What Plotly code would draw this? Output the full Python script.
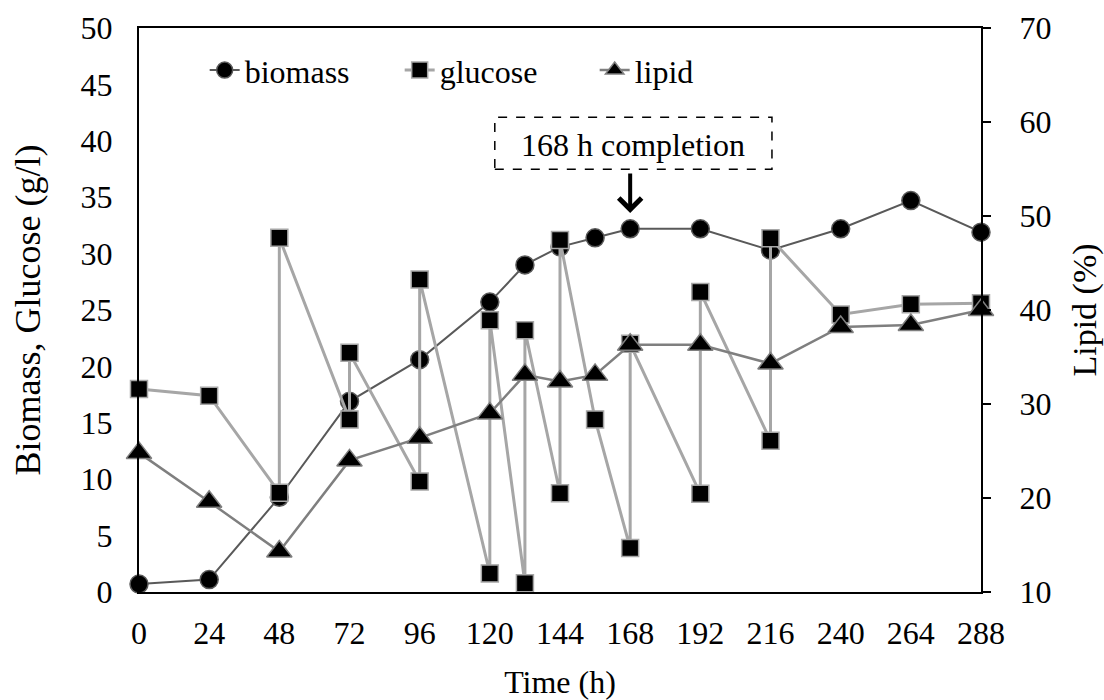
import plotly.graph_objects as go

# ---- data ----
time_h = [0, 24, 48, 72, 96, 120, 132, 144, 156, 168, 192, 216, 240, 264, 288]
biomass = [0.7, 1.1, 8.4, 16.9, 20.6, 25.7, 29.0, 30.6, 31.4, 32.2, 32.2, 30.3, 32.2, 34.7, 31.9]
lipid = [24.8, 19.6, 14.3, 24.0, 26.4, 29.0, 33.1, 32.4, 33.1, 36.3, 36.3, 34.3, 38.2, 38.4, 40.0]

glucose_time = [0, 24, 48, 48, 72, 72, 96, 96, 120, 120, 132, 132, 144, 144,
                156, 168, 168, 192, 192, 216, 216, 240, 264, 288]
glucose = [18.0, 17.4, 8.8, 31.4, 15.3, 21.2, 9.8, 27.7, 1.65, 24.1, 0.77, 23.2, 8.75, 31.2,
           15.3, 3.9, 22.0, 8.7, 26.6, 13.4, 31.35, 24.6, 25.5, 25.6]

x_ticks = list(range(0, 289, 24))
FONT = "Liberation Serif, Times New Roman, serif"
FS = 32

fig = go.Figure()
fig.add_trace(go.Scatter(
    x=time_h, y=biomass, name="biomass", mode="lines+markers", cliponaxis=False,
    line=dict(color="#595959", width=2),
    marker=dict(symbol="circle", size=18, color="black", line=dict(color="#595959", width=1.5)),
))
fig.add_trace(go.Scatter(
    x=glucose_time, y=glucose, name="glucose", mode="lines+markers", cliponaxis=False,
    line=dict(color="#A6A6A6", width=3),
    marker=dict(symbol="square", size=17, color="black", line=dict(color="#A6A6A6", width=1.5)),
))
fig.add_trace(go.Scatter(
    x=time_h, y=lipid, name="lipid", mode="lines+markers", cliponaxis=False, yaxis="y2",
    line=dict(color="#7F7F7F", width=2.5),
    marker=dict(symbol="triangle-up", size=22, color="black", line=dict(color="#7F7F7F", width=1.5)),
))

# annotation box
fig.add_shape(type="rect", xref="x", yref="y", x0=121.7, x1=216.5, y0=37.47, y1=42.08,
              line=dict(color="black", width=1.5, dash="dash"), fillcolor="rgba(0,0,0,0)")
fig.add_annotation(x=169.1, y=39.6, xref="x", yref="y", text="168 h completion",
                   showarrow=False, font=dict(size=FS, color="black", family=FONT))
fig.add_annotation(x=168, y=33.6, xref="x", yref="y", text="", showarrow=True,
                   ax=0, ay=-41, arrowhead=4, arrowwidth=4, arrowsize=1.1, arrowcolor="black")

fig.update_layout(
    width=1104, height=700,
    margin=dict(l=139, r=123, t=28, b=108),
    paper_bgcolor="white", plot_bgcolor="white",
    font=dict(family=FONT, size=FS, color="black"),
    showlegend=True,
    legend=dict(orientation="h", x=0.078, xanchor="left", y=0.925, yanchor="middle",
                bgcolor="rgba(0,0,0,0)", font=dict(size=FS), entrywidth=150,
                entrywidthmode="pixels"),
    xaxis=dict(range=[0, 288], tickvals=x_ticks, showline=True, linecolor="black", linewidth=2,
               mirror=True, ticks="", showgrid=False, zeroline=False, automargin=False,
               ticklabelstandoff=12,
               title=dict(text="Time (h)", standoff=30, font=dict(size=FS))),
    yaxis=dict(range=[0, 50], dtick=5, tick0=0, showline=True, linecolor="black", linewidth=2,
               ticks="", showgrid=False, zeroline=False, ticklabelstandoff=18, automargin=False,
               title=dict(text="Biomass, Glucose (g/l)", standoff=29, font=dict(size=36))),
    yaxis2=dict(range=[10, 70], dtick=10, tick0=10, overlaying="y", side="right",
                showline=True, linecolor="black", linewidth=2, ticks="outside", ticklen=8,
                tickwidth=2, tickcolor="black", showgrid=False, zeroline=False,
                ticklabelstandoff=22, automargin=False,
                title=dict(text="Lipid (%)", standoff=28, font=dict(size=34))),
)

fig.write_html("out.html")
